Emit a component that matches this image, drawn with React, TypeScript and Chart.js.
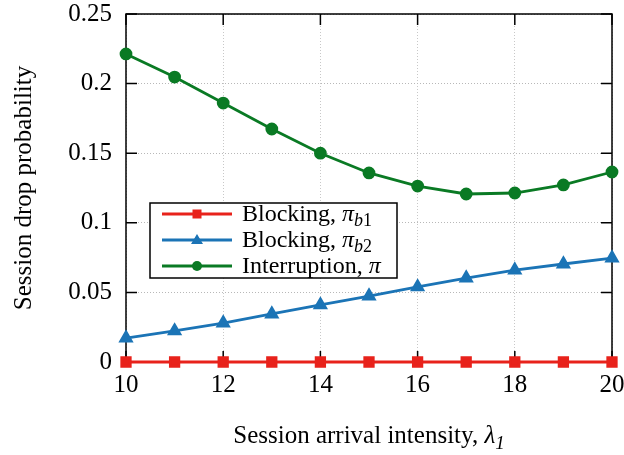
import React, { useEffect, useRef } from "react";
import { Chart, registerables } from "chart.js";

Chart.register(...registerables);

const xValues = [10, 11, 12, 13, 14, 15, 16, 17, 18, 19, 20];
const blocking1 = [0, 0, 0, 0, 0, 0, 0, 0, 0, 0, 0];
const blocking2 = [0.0172, 0.0223, 0.028, 0.0345, 0.041, 0.0474, 0.0539, 0.0603, 0.066, 0.0704, 0.0747];
const interruption = [0.2213, 0.2047, 0.186, 0.1674, 0.15, 0.1358, 0.1264, 0.1207, 0.1214, 0.1272, 0.1365];
const xTicks = [10, 12, 14, 16, 18, 20];
const yTicks = [0, 0.05, 0.1, 0.15, 0.2, 0.25];
const yTickLabels = ["0", "0.05", "0.1", "0.15", "0.2", "0.25"];

const RED = "#e8221b";
const BLUE = "#1b74b6";
const GREEN = "#0a7a24";
const FONT = "'Liberation Serif', 'DejaVu Serif', serif";

type Part = { t: string; italic?: boolean; sub?: boolean };

function drawParts(ctx: CanvasRenderingContext2D, parts: Part[], x: number, y: number, size: number, align: "left" | "center") {
  const fontOf = (p: Part) => `${p.italic ? "italic " : ""}${p.sub ? Math.round(size * 0.75) : size}px ${FONT}`;
  let total = 0;
  for (const p of parts) {
    ctx.font = fontOf(p);
    total += ctx.measureText(p.t).width;
  }
  let cx = align === "center" ? x - total / 2 : x;
  ctx.textAlign = "left";
  ctx.textBaseline = "alphabetic";
  ctx.fillStyle = "#000";
  for (const p of parts) {
    ctx.font = fontOf(p);
    ctx.fillText(p.t, cx, p.sub ? y + size * 0.22 : y);
    cx += ctx.measureText(p.t).width;
  }
}

const legendItems: { color: string; marker: string; parts: Part[] }[] = [
  { color: RED, marker: "rect", parts: [{ t: "Blocking, " }, { t: "π", italic: true }, { t: "b", italic: true, sub: true }, { t: "1", sub: true }] },
  { color: BLUE, marker: "triangle", parts: [{ t: "Blocking, " }, { t: "π", italic: true }, { t: "b", italic: true, sub: true }, { t: "2", sub: true }] },
  { color: GREEN, marker: "circle", parts: [{ t: "Interruption, " }, { t: "π", italic: true }] },
];

const decorPlugin = {
  id: "decor",
  beforeDatasetsDraw(chart: any) {
    const { ctx, chartArea } = chart;
    const { left, right, top, bottom } = chartArea;
    const xs = chart.scales.x;
    const ys = chart.scales.y;
    ctx.save();
    ctx.strokeStyle = "#000";
    ctx.lineWidth = 1.5;
    ctx.strokeRect(left, top, right - left, bottom - top);
    ctx.beginPath();
    const tl = 11;
    for (const v of xTicks) {
      const px = xs.getPixelForValue(v);
      ctx.moveTo(px, bottom);
      ctx.lineTo(px, bottom - tl);
      ctx.moveTo(px, top);
      ctx.lineTo(px, top + tl);
    }
    for (const v of yTicks) {
      const py = ys.getPixelForValue(v);
      ctx.moveTo(left, py);
      ctx.lineTo(left + tl, py);
      ctx.moveTo(right, py);
      ctx.lineTo(right - tl, py);
    }
    ctx.stroke();
    ctx.restore();
  },
  afterDatasetsDraw(chart: any) {
    const { ctx, chartArea } = chart;
    ctx.save();
    // legend
    const bx = 150, by = 203, bw = 247, bh = 75;
    ctx.fillStyle = "#fff";
    ctx.fillRect(bx, by, bw, bh);
    ctx.strokeStyle = "#000";
    ctx.lineWidth = 1.5;
    ctx.strokeRect(bx, by, bw, bh);
    legendItems.forEach((it, i) => {
      const ly = 214 + i * 26;
      ctx.strokeStyle = it.color;
      ctx.fillStyle = it.color;
      ctx.lineWidth = 2.8;
      ctx.beginPath();
      ctx.moveTo(162, ly);
      ctx.lineTo(232, ly);
      ctx.stroke();
      const mx = 197;
      ctx.beginPath();
      if (it.marker === "rect") {
        ctx.fillRect(mx - 4.5, ly - 4.5, 9, 9);
      } else if (it.marker === "triangle") {
        ctx.moveTo(mx, ly - 6);
        ctx.lineTo(mx + 6, ly + 4);
        ctx.lineTo(mx - 6, ly + 4);
        ctx.closePath();
        ctx.fill();
      } else {
        ctx.arc(mx, ly, 5, 0, Math.PI * 2);
        ctx.fill();
      }
      drawParts(ctx, it.parts, 242, ly + 7, 24, "left");
    });
    // x title
    drawParts(
      ctx,
      [{ t: "Session arrival intensity, " }, { t: "λ", italic: true }, { t: "1", italic: true, sub: true }],
      (chartArea.left + chartArea.right) / 2,
      443,
      25,
      "center"
    );
    // y title
    ctx.translate(31, (chartArea.top + chartArea.bottom) / 2);
    ctx.rotate(-Math.PI / 2);
    ctx.font = `25px ${FONT}`;
    ctx.fillStyle = "#000";
    ctx.textAlign = "center";
    ctx.textBaseline = "alphabetic";
    ctx.fillText("Session drop probability", 0, 0);
    ctx.restore();
  },
};

export default function App() {
  const ref = useRef<HTMLCanvasElement>(null);
  useEffect(() => {
    if (!ref.current) return;
    const toPts = (arr: number[]) => xValues.map((x, i) => ({ x, y: arr[i] }));
    const chart = new Chart(ref.current, {
      type: "line",
      data: {
        datasets: [
          {
            label: "Interruption, π",
            data: toPts(interruption),
            borderColor: GREEN,
            backgroundColor: GREEN,
            borderWidth: 2.8,
            pointStyle: "circle",
            pointRadius: 5,
            pointHoverRadius: 5,
            clip: false as any,
            order: 3,
          },
          {
            label: "Blocking, πb2",
            data: toPts(blocking2),
            borderColor: BLUE,
            backgroundColor: BLUE,
            borderWidth: 2.8,
            pointStyle: "triangle",
            pointRadius: 6,
            pointHoverRadius: 6,
            clip: false as any,
            order: 2,
          },
          {
            label: "Blocking, πb1",
            data: toPts(blocking1),
            borderColor: RED,
            backgroundColor: RED,
            borderWidth: 2.8,
            pointStyle: "rect",
            pointRadius: 6,
            pointHoverRadius: 6,
            clip: false as any,
            order: 1,
          },
        ],
      },
      options: {
        animation: false,
        responsive: false,
        maintainAspectRatio: false,
        layout: { padding: { left: 0, top: 14, right: 12, bottom: 0 } },
        plugins: { legend: { display: false }, tooltip: { enabled: false } },
        scales: {
          x: {
            type: "linear",
            min: 10,
            max: 20,
            afterFit: (s: any) => {
              s.height = 93;
              s.paddingLeft = 0;
              s.paddingRight = 0;
              s.paddingTop = 0;
              s.paddingBottom = 0;
            },
            afterBuildTicks: (s: any) => {
              s.ticks = xTicks.map((v) => ({ value: v }));
            },
            ticks: {
              font: { family: FONT, size: 25 },
              color: "#000",
              padding: 8,
              maxRotation: 0,
              autoSkip: false,
              callback: (v: any) => String(v),
            },
            grid: { color: "#c8c8c8", drawTicks: false, lineWidth: 1 },
            border: { display: false, dash: [1, 2] },
          },
          y: {
            type: "linear",
            min: 0,
            max: 0.25,
            afterFit: (s: any) => {
              s.width = 126;
              s.paddingLeft = 0;
              s.paddingRight = 0;
              s.paddingTop = 0;
              s.paddingBottom = 0;
            },
            afterBuildTicks: (s: any) => {
              s.ticks = yTicks.map((v) => ({ value: v }));
            },
            ticks: {
              font: { family: FONT, size: 25 },
              color: "#000",
              padding: 14,
              autoSkip: false,
              callback: (v: any) => {
                const i = yTicks.findIndex((t) => Math.abs(t - v) < 1e-9);
                return i >= 0 ? yTickLabels[i] : "";
              },
            },
            grid: { color: "#b8b8b8", drawTicks: false, lineWidth: 1 },
            border: { display: false, dash: [1, 2] },
          },
        },
      },
      plugins: [decorPlugin],
    });
    return () => chart.destroy();
  }, []);
  return (
    <div style={{ position: "absolute", left: 0, top: 0, width: 624, height: 455, background: "#fff" }}>
      <canvas ref={ref} width={624} height={455} style={{ width: 624, height: 455 }} />
    </div>
  );
}
